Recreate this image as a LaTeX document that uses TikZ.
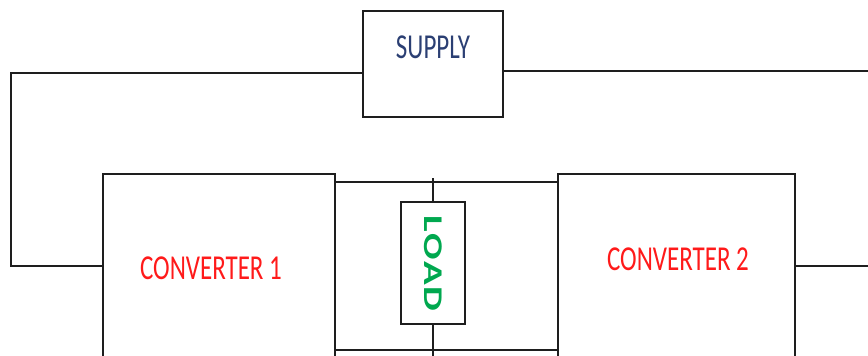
\documentclass[tikz,border=0pt]{standalone}
\usepackage{fontspec}
\setmainfont{Carlito}
\definecolor{wire}{HTML}{1E1E1E}
\definecolor{supblue}{HTML}{2B3F73}
\definecolor{convred}{HTML}{FF1A1A}
\definecolor{loadgreen}{HTML}{00A84F}
\tikzset{
  box/.style={draw=wire, line width=2.4pt, fill=white, inner sep=0pt},
  wireline/.style={draw=wire, line width=2.2pt},
  lbl/.style={font=\fontsize{25}{30}\selectfont, inner sep=0pt},
}
\newcommand{\tallt}[1]{\scalebox{1}[1.4]{#1}}
\begin{document}
\begin{tikzpicture}[x=1pt,y=-1pt]
\useasboundingbox (0,0) rectangle (868,356);
\clip (0,0) rectangle (868,356);
% coordinates for free wire ends
\coordinate (lc) at (11,0);
\coordinate (re) at (875,0);
% boxes
\node[box, minimum width=140pt, minimum height=106pt] (sup) at (433,64) {};
\node[box, minimum width=232pt, minimum height=184pt] (conv1) at (219,266) {};
\node[box, minimum width=237pt, minimum height=184pt] (conv2) at (676.5,266) {};
\coordinate (supL) at ([yshift=-9pt]sup.west);
\coordinate (supR) at ([yshift=-7pt]sup.east);
% wires
\draw[wireline] (supL) -| (lc |- conv1.west) -- (conv1.west);
\draw[wireline] (supR) -- (re |- supR);
\draw[wireline] (conv2.east) -- (re |- conv2.east);
\draw[wireline] (conv1.east |- 0,182) -- (conv2.west |- 0,182);
\draw[wireline] (conv1.east |- 0,350) -- (conv2.west |- 0,350);
% load
\node[box, minimum width=64pt, minimum height=122pt] (load) at (433,263) {};
\draw[wireline] (load.north) -- (load.north |- 0,178);
\draw[wireline] (load.south) -- (load.south |- 0,360);
% labels
\node[lbl, text=supblue] (suptext) at ([yshift=17pt]sup.center) {\tallt{SUPPLY}};
\node[lbl, text=convred] (c1text) at ([xshift=-8pt,yshift=-2pt]conv1.center) {\tallt{CONVERTER 1}};
\node[lbl, text=convred] (c2text) at ([xshift=1.5pt,yshift=7pt]conv2.center) {\tallt{CONVERTER 2}};
\node[lbl, text=loadgreen, rotate=-90, font=\fontsize{27}{30}\selectfont\bfseries] (loadtext) at (load.center) {\scalebox{1.45}[1]{L\kern1ptO\kern1ptA\kern1ptD}};
\end{tikzpicture}
\end{document}
